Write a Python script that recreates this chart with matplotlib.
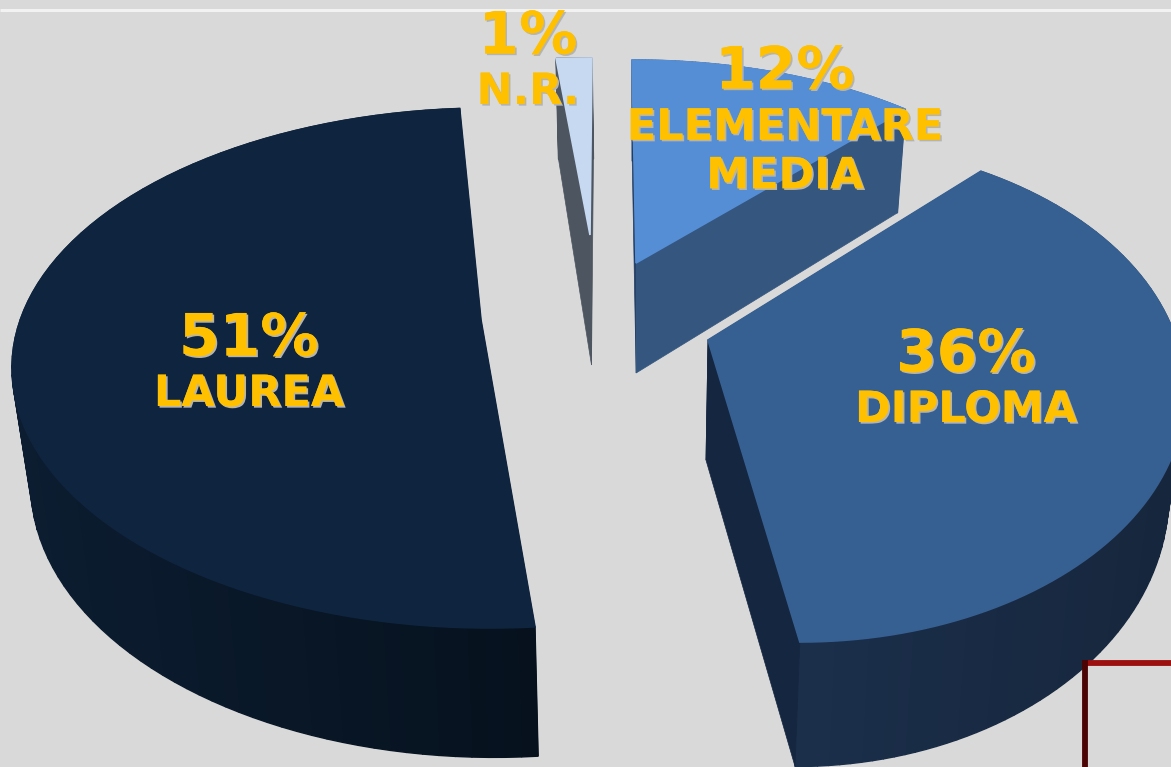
import matplotlib
matplotlib.use("Agg")
import matplotlib.pyplot as plt
import matplotlib.patheffects as pe
import numpy as np

labels = ["LAUREA", "N.R.", "ELEMENTARE\nMEDIA", "DIPLOMA"]
shares = [51, 1, 12, 36]

# layout of each slice, in pixels of the picture
apex = [(481, 320), (590, 235), (636, 263), (708, 340)]
centre = [(490, 368), (592, 235), (632, 265), (800, 392)]
radius = [(478, 260), (573, 177), (420, 205), (385, 250)]
start = [275.4, 93.6, 90, 62]
stretch = [0.99, 1.0, 0.94, 1.173]
apex_depth = [125, 130, 110, 120]
depth_a = [98, 98, 98, 70]
depth_b = [0.05, 0.05, 0.05, 0.085]
top_col = ["#0f243e", "#c6d9f1", "#558ed5", "#376092"]
wall_col = [("#0c1d31", "#06111d"), ("#4d5560", "#4d5560"), ("#34567f", "#34567f"), ("#1b2f4b", "#16263c")]
cut_col = ["#06111d", "#4d5560", "#1f3a5f", "#152640"]
cut2_col = ["#0f243e", "#4d5560", "#34567f", "#152640"]
text_pos = [(249, 364), (528, 62), (785, 97), (966, 380)]


def drop(x, y, a, b, extra=None):
    # the foot of the pie: lower on the page and a bit nearer the middle
    d = a + b * y if extra is None else extra
    return x - 0.03 * (x - 640), y + d


fig = plt.figure(figsize=(11.71, 7.67), dpi=100, facecolor="#d9d9d9")
ax = fig.add_axes([0, 0, 1, 1])
ax.set_xlim(0, 1171)
ax.set_ylim(767, 0)
ax.axis("off")

ax.plot([0, 1171], [9.5, 9.5], color="#f2f2f2", lw=2.2, zorder=1, solid_capstyle="butt")

for i in range(len(shares)):
    sweep = shares[i] / sum(shares) * 360 * stretch[i]
    t = np.radians(np.linspace(start[i], start[i] - sweep, 90))
    rx = centre[i][0] + radius[i][0] * np.cos(t)
    ry = centre[i][1] - radius[i][1] * np.sin(t)
    ax_, ay_ = apex[i]
    z = 2 + i * 3

    # outer wall, one strip per step so it can be shaded
    fx, fy = drop(rx, ry, depth_a[i], depth_b[i])
    c1 = np.array(matplotlib.colors.to_rgb(wall_col[i][0]))
    c2 = np.array(matplotlib.colors.to_rgb(wall_col[i][1]))
    xmin, xmax = rx.min(), rx.max()
    for k in range(len(rx) - 1):
        f = ((rx[k] + rx[k + 1]) / 2 - xmin) / (xmax - xmin)
        col = c1 + (c2 - c1) * f
        ax.fill([rx[k], rx[k + 1], fx[k + 1], fx[k]], [ry[k], ry[k + 1], fy[k + 1], fy[k]],
                color=col, lw=1, zorder=z)

    # the two cut faces
    bx, by = drop(ax_, ay_, depth_a[i], depth_b[i], apex_depth[i])
    ax.fill([rx[0], ax_, bx, fx[0]], [ry[0], ay_, by, fy[0]], color=cut_col[i], lw=0.5, zorder=z)
    ax.fill([rx[-1], ax_, bx, fx[-1]], [ry[-1], ay_, by, fy[-1]], color=cut2_col[i], lw=0.5, zorder=z)

    # top face, its own edge hides the strips that poke out along the rim
    ax.fill(np.r_[ax_, rx], np.r_[ay_, ry], color=top_col[i], lw=1.2, zorder=z + 1)

# bit of a red frame in the corner
ax.plot([1083, 1171], [662.5, 662.5], color="#9c1010", lw=4.2, zorder=20, solid_capstyle="butt")
ax.plot([1085, 1085], [660, 767], color="#4a0404", lw=4.2, zorder=20, solid_capstyle="butt")

shadow = [pe.withSimplePatchShadow(offset=(1.2, -1.2), shadow_rgbFace="#b4b4b4", alpha=1.0), pe.Normal()]
for i in range(len(shares)):
    x, y = text_pos[i]
    ax.text(x, y - 25, str(shares[i]) + "%", ha="center", va="center", color="#ffc000", fontsize=42,
            fontweight="bold", family="DejaVu Sans", zorder=30, path_effects=shadow)
    ax.text(x, y + 30 + (labels[i].count("\n") * 25), labels[i], ha="center", va="center", color="#ffc000",
            fontsize=31, fontweight="bold", family="DejaVu Sans", linespacing=1.2, zorder=30, path_effects=shadow)

fig.savefig("out.png", dpi=100, facecolor=fig.get_facecolor())
